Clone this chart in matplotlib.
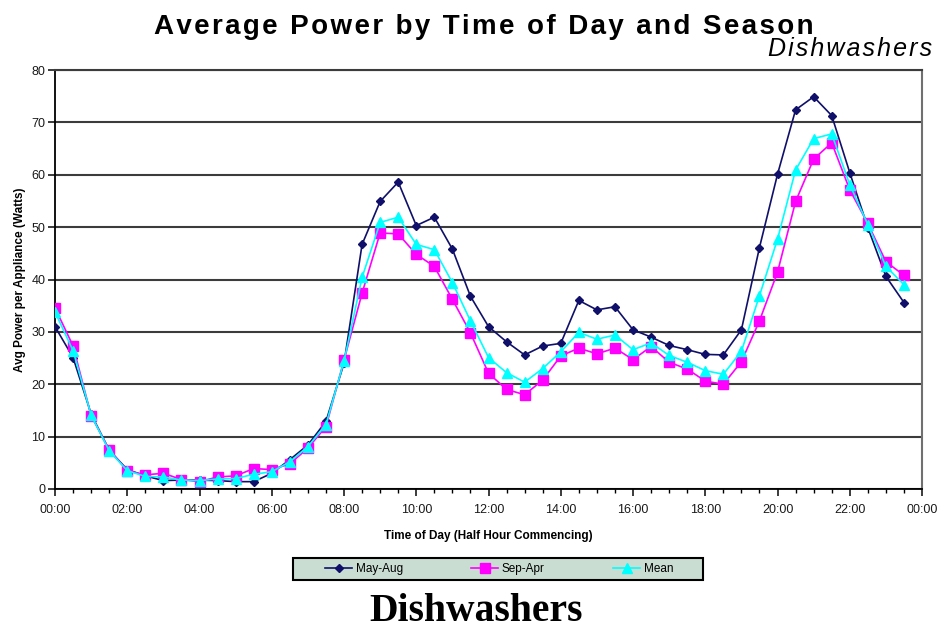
import matplotlib
matplotlib.use('Agg')
import matplotlib.pyplot as plt
import matplotlib.ticker as ticker
from matplotlib.patches import Rectangle

################################################################################
# Average power per dishwasher, half hour steps from 00:00 to 23:30
may_aug = [31.0, 25.1, 14.3, 7.4, 3.7, 2.5, 1.6, 1.7, 1.7, 1.6, 1.4, 1.4,
           3.0, 5.6, 8.4, 12.9, 24.0, 46.7, 54.9, 58.6, 50.3, 51.9, 45.8, 36.8,
           31.0, 28.1, 25.6, 27.3, 27.8, 36.0, 34.2, 34.8, 30.4, 29.0, 27.4, 26.6,
           25.7, 25.6, 30.4, 46.1, 60.1, 72.4, 74.9, 71.3, 60.4, 49.9, 40.6, 35.6]
sep_apr = [34.6, 27.3, 14.0, 7.5, 3.5, 2.7, 3.0, 1.8, 1.4, 2.3, 2.5, 3.9,
           3.7, 4.8, 7.8, 11.9, 24.6, 37.4, 48.9, 48.7, 44.8, 42.5, 36.2, 29.8,
           22.1, 19.0, 18.0, 20.8, 25.4, 26.9, 25.8, 26.9, 24.7, 27.2, 24.2, 22.9,
           20.6, 20.0, 24.3, 32.1, 41.4, 54.9, 63.0, 66.1, 57.1, 50.7, 43.4, 40.8]
mean = [33.8, 26.4, 14.1, 7.3, 3.5, 2.4, 2.3, 1.7, 1.6, 1.9, 2.0, 2.8,
        3.3, 5.2, 8.1, 12.3, 24.4, 40.4, 50.9, 51.9, 46.7, 45.7, 39.4, 32.1,
        25.1, 22.2, 20.4, 23.0, 26.2, 29.9, 28.6, 29.4, 26.6, 27.9, 25.5, 24.2,
        22.6, 21.9, 26.3, 36.9, 47.7, 60.9, 66.9, 67.8, 58.1, 50.5, 42.5, 39.0]
tick_labels = ['00:00', '02:00', '04:00', '06:00', '08:00', '10:00', '12:00',
               '14:00', '16:00', '18:00', '20:00', '22:00', '00:00']

x = list(range(len(may_aug)))
fam = ['Liberation Sans', 'DejaVu Sans']


def spaced(s):
    # the original uses letter spacing, hair spaces get close to it
    return '\u200a'.join(s)


fig = plt.figure(figsize=(9.42, 6.32), dpi=100)
ax = fig.add_axes([0.0584, 0.2263, 0.9204, 0.6629])

ax.plot(x, may_aug, color='#10106a', marker='D', markersize=4.5, lw=1.2,
        label='May-Aug', zorder=3)
ax.plot(x, sep_apr, color='#ff00ff', marker='s', markersize=6.5, lw=1.2,
        label='Sep-Apr', zorder=3)
ax.plot(x, mean, color='#00ffff', marker='^', markersize=6.5, lw=1.2,
        label='Mean', zorder=4)

ax.set_xlim(0, 48)
ax.set_ylim(0, 80)
ax.xaxis.set_minor_locator(ticker.MultipleLocator(1))
ax.set_xticks(range(0, 49, 4))
ax.set_xticklabels(tick_labels)
ax.yaxis.set_major_locator(ticker.MultipleLocator(10))
ax.tick_params(axis='both', which='major', direction='out', length=5,
               width=1.2, labelsize=9, colors='#1a1a1a')
ax.tick_params(axis='y', which='major', pad=2)
ax.tick_params(axis='x', which='major', pad=6)
ax.tick_params(axis='x', which='minor', direction='out', length=3, width=1.0)
ax.grid(axis='y', color='#3c3c3c', lw=1.5, zorder=1)
ax.set_axisbelow(True)

ax.spines['left'].set_linewidth(1.3)
ax.spines['bottom'].set_linewidth(1.3)
ax.spines['right'].set_color('#707070')
ax.spines['right'].set_linewidth(1.5)
ax.spines['top'].set_color('#3c3c3c')
ax.spines['top'].set_linewidth(1.5)

ax.set_xlabel('Time of Day (Half Hour Commencing)', fontsize=8.5,
              fontweight='bold', family=fam, labelpad=10)
ax.set_ylabel('Avg Power per Appliance (Watts)', fontsize=8.5,
              fontweight='bold', family=fam, labelpad=4)
for lab in ax.get_xticklabels() + ax.get_yticklabels():
    lab.set_family(fam)

fig.text(0.514, 0.958, spaced('Average Power by Time of Day and Season'),
         ha='center', va='center', fontsize=20, fontweight='bold', family=fam)
fig.text(0.99, 0.922, spaced('Dishwashers'), ha='right', va='center',
         fontsize=18, style='italic', family=fam)

# legend box drawn by hand so the entries can sit in the middle of it
fig.patches.append(Rectangle((0.311, 0.0823), 0.435, 0.035,
                             transform=fig.transFigure, facecolor='#c9ddd3',
                             edgecolor='black', lw=1.5, zorder=0))
leg = fig.legend(loc='center', bbox_to_anchor=(0.53, 0.0995), ncol=3,
                 frameon=False, handlelength=2.3, handletextpad=0.3,
                 columnspacing=5.8, borderaxespad=0,
                 prop={'family': fam, 'size': 8.5})

fig.text(0.505, 0.017, 'Dishwashers', ha='center', va='baseline', fontsize=28.5,
         fontweight='bold', family='Liberation Serif')

fig.savefig('out.png', dpi=100)
print('Done')
